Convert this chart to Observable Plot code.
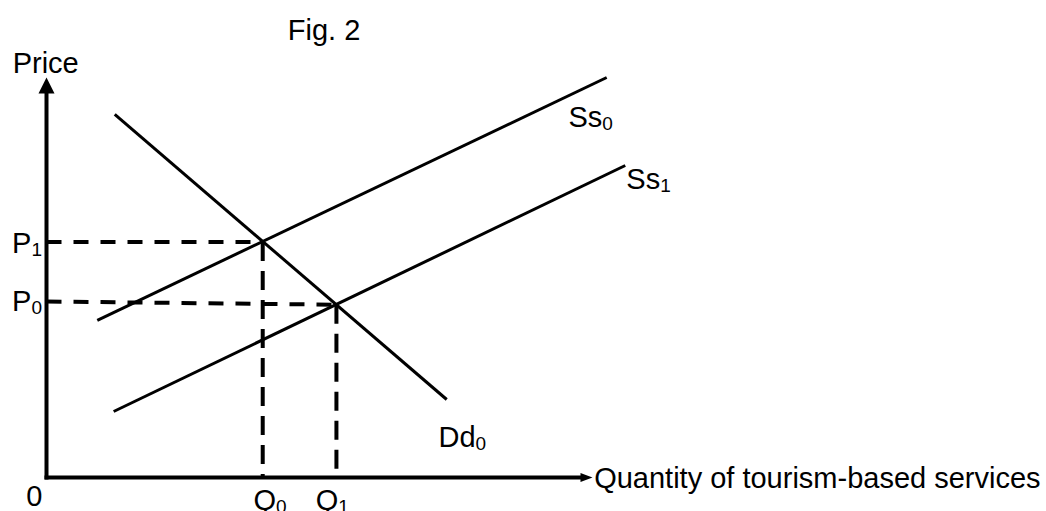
<!DOCTYPE html>
<html>
<head>
<meta charset="utf-8">
<script src="https://cdn.jsdelivr.net/npm/d3@7"></script>
<script src="https://cdn.jsdelivr.net/npm/@observablehq/plot@0.6"></script>
<style>
  html, body { margin: 0; padding: 0; background: white; }
  #chart { width: 1046px; height: 511px; }
</style>
</head>
<body>
<div id="chart"></div>
<script>
// ---- Curves (quantity / price units, axis runs 0..100 on both) ----
const curveNames = ["Ss0", "Ss1", "Dd0"];
const curveQ = [[9.3, 102.6], [12.3, 106.0], [12.5, 73.3]];
const curveP = [[39.3, 100.0], [16.5, 78.0], [90.8, 19.5]];

// ---- Equilibria ----
const Q0 = 39.6, Q1 = 53.1;
const P1 = 58.9;          // price level at Q0
const P0 = 44.0;          // P0 marker on price axis
const P0Cross = 43.2;     // price at Ss1 / Dd0 crossing

// ---- Axes ----
const axisQEnd = 97.8;    // x axis length before arrowhead
const axisPEnd = 96.0;    // y axis length before arrowhead

// ---- Labels ----
const labelText = ["Fig. 2", "Price", "P1", "P0", "0", "Q0", "Q1", "Dd0", "Ss0", "Ss1", "Quantity of tourism-based services"];
const labelQ    = [44.2, -6.2, -6.3, -6.3, -3.7, 37.9, 49.3, 71.8, 95.6, 106.2, 100.3];
const labelP    = [109.5, 101.25, 56.25, 41.75, -7.0, -8.0, -8.0, 7.75, 87.6, 72.25, -2.6];

const curves = curveNames.map((name, i) => ({name, q1: curveQ[i][0], q2: curveQ[i][1], p1: curveP[i][0], p2: curveP[i][1]}));
const dashH = [
  {q1: 0, p1: P1, q2: Q0, p2: P1},
  {q1: 0, p1: P0, q2: Q1, p2: P0Cross}
];
const dashV = [
  {q1: Q0, p1: P1, q2: Q0, p2: 0},
  {q1: Q1, p1: P0Cross, q2: Q1, p2: 0}
];
const axes = [
  {q1: 0, p1: 0, q2: axisQEnd, p2: 0},
  {q1: 0, p1: 0, q2: 0, p2: axisPEnd}
];
const labels = labelText.map((t, i) => ({t, q: labelQ[i], p: labelP[i]}));

const chart = Plot.plot({
  width: 1046,
  height: 511,
  marginLeft: 46,
  marginRight: 454,
  marginTop: 77,
  marginBottom: 34,
  x: {domain: [0, 100], axis: null},
  y: {domain: [0, 100], axis: null},
  style: {background: "white", color: "black", fontFamily: "Arial, 'Liberation Sans', sans-serif", overflow: "visible"},
  marks: [
    Plot.link(dashH, {x1: "q1", y1: "p1", x2: "q2", y2: "p2", stroke: "black", strokeWidth: 4, strokeDasharray: "15,12"}),
    Plot.link(dashV, {x1: "q1", y1: "p1", x2: "q2", y2: "p2", stroke: "black", strokeWidth: 4, strokeDasharray: "19,10"}),
    Plot.link(curves, {x1: "q1", y1: "p1", x2: "q2", y2: "p2", stroke: "black", strokeWidth: 3}),
    Plot.link(axes, {x1: "q1", y1: "p1", x2: "q2", y2: "p2", stroke: "black", strokeWidth: 4, strokeLinecap: "square"}),
    Plot.vector([{q: 0, p: axisPEnd}], {x: "q", y: "p", rotate: 0, length: 16, r: 8, shape: "spike", anchor: "start", fill: "black", stroke: "none"}),
    Plot.vector([{q: axisQEnd, p: 0}], {x: "q", y: "p", rotate: 90, length: 12, r: 4.5, shape: "spike", anchor: "start", fill: "black", stroke: "none"}),
    Plot.text(labels, {x: "q", y: "p", text: "t", textAnchor: "start", lineAnchor: "bottom", fontSize: 29, fill: "black"})
  ]
});

document.getElementById("chart").appendChild(chart);

// subscripts
d3.select(chart).selectAll("text").each(function () {
  const m = /^(Ss|Dd|P|Q)([01])$/.exec(this.textContent);
  if (m) {
    const sel = d3.select(this);
    sel.text(m[1]);
    sel.append("tspan").attr("font-size", 19).attr("dy", 3).text(m[2]);
  }
});
</script>
</body>
</html>
